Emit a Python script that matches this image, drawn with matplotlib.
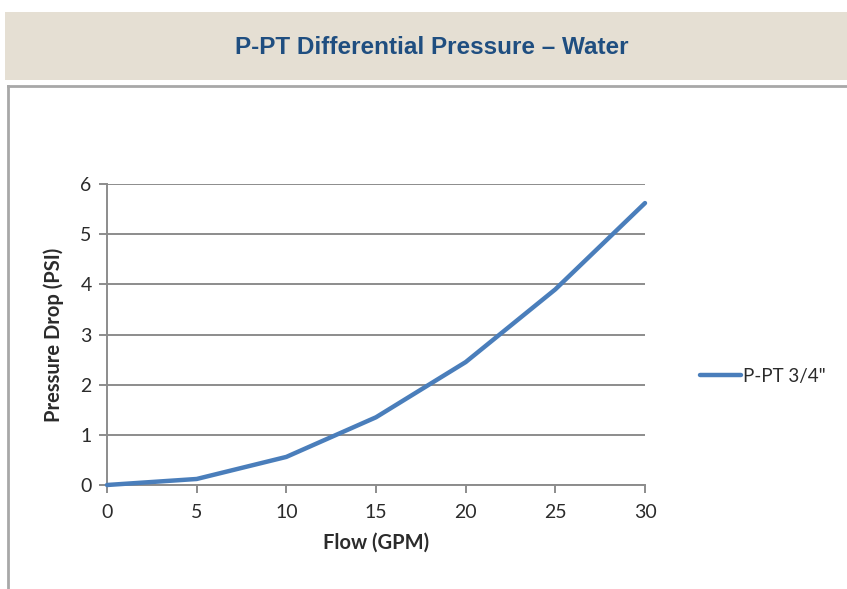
import matplotlib.pyplot as plt
from matplotlib.patches import Rectangle
from matplotlib.lines import Line2D

flow = [0, 5, 10, 15, 20, 25, 30]
pressure = [0.0, 0.12, 0.56, 1.35, 2.45, 3.9, 5.62]
series_name = 'P-PT 3/4"'
title = "P-PT Differential Pressure \u2013 Water"

plt.rcParams['font.family'] = ['Lato', 'DejaVu Sans']

fig = plt.figure(figsize=(8.47, 5.89), dpi=100)
W, H = 847, 589

# beige title banner
fig.patches.append(Rectangle((5 / W, 1 - 80 / H), 1, 68 / H, transform=fig.transFigure,
                             facecolor="#E5DFD3", edgecolor="none", zorder=0))
fig.text(0.510, 1 - 48 / H, title, ha="center", va="center", fontsize=17.5,
         fontweight="bold", color="#1F4E80",
         family=["Liberation Sans Narrow", "Liberation Sans", "DejaVu Sans"])

# chart frame
ytop = 1 - 86 / H
fig.lines.append(Line2D([8 / W, 8 / W], [0, ytop], transform=fig.transFigure,
                        color="#A8A8A8", lw=2))
fig.lines.append(Line2D([8 / W, 1], [ytop, ytop], transform=fig.transFigure,
                        color="#A8A8A8", lw=2))

ax = fig.add_axes([107 / W, 1 - 485 / H, 538 / W, 301 / H])
ax.plot(flow, pressure, color="#4A7EBB", lw=3.2, label=series_name,
        solid_capstyle="round", zorder=3, clip_on=False)

ax.set_xlim(0, 30)
ax.set_ylim(0, 6)
ax.set_xticks(range(0, 31, 5))
ax.set_yticks(range(0, 7))
ax.grid(axis="y", color="#8C8C8C", lw=1.4)
ax.set_axisbelow(True)
for s in ["top", "right"]:
    ax.spines[s].set_visible(False)
ax.spines["left"].set_color("#8C8C8C")
ax.spines["bottom"].set_color("#8C8C8C")
ax.spines["left"].set_linewidth(1.4)
ax.spines["bottom"].set_linewidth(1.4)
ax.tick_params(axis="both", colors="#8C8C8C", labelcolor="#2B2B2B", labelsize=14,
               width=1.4, length=6)
ax.tick_params(axis="y", pad=5)
ax.tick_params(axis="x", pad=8)

ax.set_xlabel("Flow (GPM)", fontsize=14.5, fontweight="bold", color="#2B2B2B", labelpad=8)
ax.set_ylabel("Pressure Drop (PSI)", fontsize=14.5, fontweight="bold", color="#2B2B2B",
              labelpad=12)

ax.legend(loc="center left", bbox_to_anchor=(1.07, 0.362), frameon=False, fontsize=13.5,
          handlelength=2.2, handletextpad=0.1, labelcolor="#2B2B2B")

fig.savefig("out.png", dpi=100)
